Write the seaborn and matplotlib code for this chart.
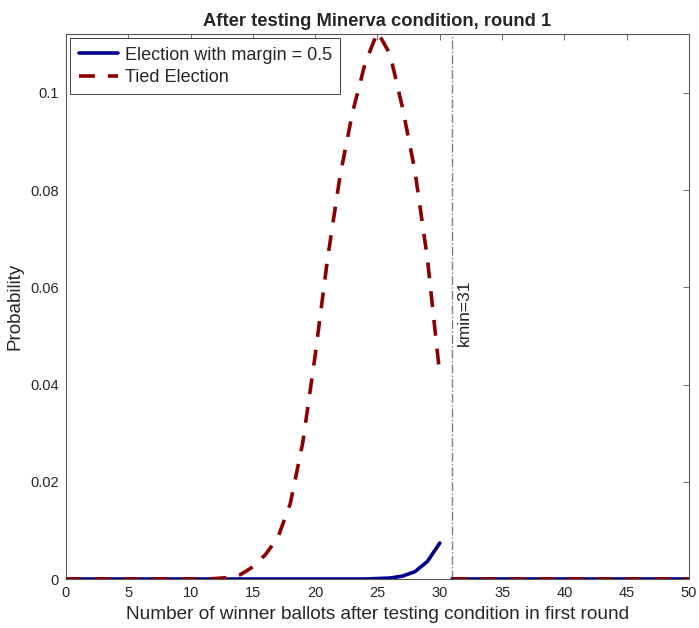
import numpy as np
import pandas as pd
import matplotlib
matplotlib.use("Agg")
import matplotlib.pyplot as plt
import seaborn as sns
from matplotlib.ticker import FuncFormatter

# winner ballots after testing condition (0..50)
ballots = list(range(51))

# tied election distribution
tied = [0]*12 + [0.0001, 0.0003, 0.0009, 0.0025, 0.005, 0.0085, 0.0155, 0.028,
                 0.046, 0.066, 0.083, 0.096, 0.106, 0.1125, 0.108, 0.097, 0.084,
                 0.066, 0.042] + [0]*20

# election with margin 0.5
margin = [0]*25 + [0.0001, 0.0002, 0.0006, 0.0015, 0.0036, 0.0074] + [0]*20

kmin = 31

df = pd.DataFrame({"x": ballots, "tied": tied, "margin": margin})
before = df[df.x < kmin]
after = df[df.x >= kmin]

sns.set_style("white")
plt.rcParams['font.family'] = ['Liberation Sans', 'DejaVu Sans']

fig = plt.figure(figsize=(6.99, 6.28), dpi=100)
ax = fig.add_axes([0.0944, 0.078, 0.8913, 0.8679])

blue = "#00008B"
red = "#8B0000"
dash = (0, (4.4, 3.6))

sns.lineplot(data=before, x="x", y="margin", ax=ax, color=blue, lw=2.6,
             label="Election with margin = 0.5", zorder=3)
sns.lineplot(data=after, x="x", y="margin", ax=ax, color=blue, lw=2.6, zorder=3)
sns.lineplot(data=before, x="x", y="tied", ax=ax, color=red, lw=2.6,
             linestyle=dash, label="Tied Election", zorder=4)
sns.lineplot(data=after, x="x", y="tied", ax=ax, color=red, lw=2.6,
             linestyle=dash, zorder=4)

ax.axvline(kmin, color="#808080", lw=1, linestyle="-.", zorder=2)
ax.text(kmin + 0.35, 0.048, f"kmin={kmin}", rotation=90, ha="left", va="bottom",
        fontsize=12.5, color="#222222")

ax.set_xlim(0, 50)
ax.set_ylim(0, 0.1121)
ax.set_xticks(range(0, 51, 5))
ax.set_yticks([0, 0.02, 0.04, 0.06, 0.08, 0.1])
ax.yaxis.set_major_formatter(FuncFormatter(lambda v, p: f"{v:g}"))
ax.tick_params(direction="in", top=True, right=True, length=4, width=0.6,
               colors="#262626", labelsize=10.5, pad=5)
ax.tick_params(axis="both", color="#555555")
for s in ax.spines.values():
    s.set_color("#555555")
    s.set_linewidth(0.8)

ax.set_xlabel("Number of winner ballots after testing condition in first round",
              fontsize=13.7, color="#262626", labelpad=4)
ax.set_ylabel("Probability", fontsize=13.6, color="#262626", labelpad=5)
ax.set_title("After testing Minerva condition, round 1", fontsize=13.2,
             fontweight="bold", pad=6)

leg = ax.legend(loc="upper left", fontsize=13, fancybox=False, framealpha=1,
                edgecolor="#262626", borderaxespad=0.25, handlelength=2.2,
                handletextpad=0.35, borderpad=0.45, labelspacing=0.3)
leg.get_frame().set_linewidth(0.6)

fig.savefig("out.png", dpi=100)
